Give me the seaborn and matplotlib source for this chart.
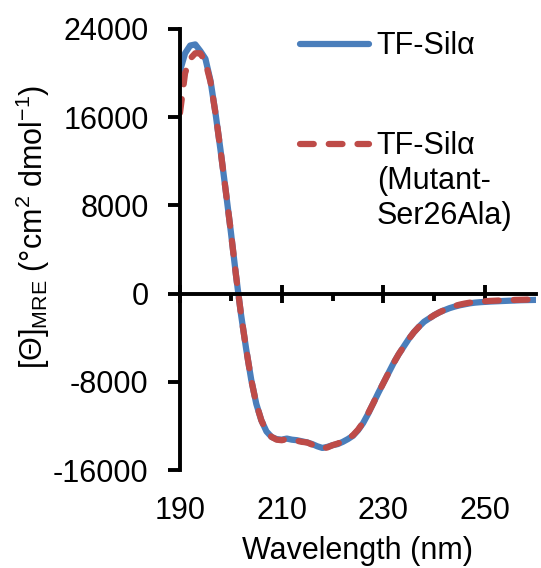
import numpy as np
import pandas as pd
import matplotlib
matplotlib.use("Agg")
import matplotlib.pyplot as plt
import seaborn as sns

# Wavelength grid (nm)
wavelength = list(range(190, 261))

# Mean residue ellipticity, wild type
theta_wt = [
    20200, 21800, 22500, 22600, 22000, 21300, 19300, 16300, 12900, 9300,
    5600, 1700, -1900, -5000, -7800, -10000, -11500, -12500, -13000, -13200,
    -13250, -13150, -13250, -13300, -13400, -13500, -13650, -13850, -14000, -13900,
    -13750, -13650, -13450, -13200, -12900, -12400, -11750, -10900, -9950, -9000,
    -8100, -7200, -6300, -5500, -4800, -4100, -3500, -3000, -2550, -2250,
    -1950, -1700, -1500, -1320, -1180, -1060, -970, -880, -820, -780,
    -750, -720, -700, -680, -660, -640, -620, -600, -590, -580,
    -570,
]

# Mean residue ellipticity, Ser26Ala mutant
theta_mut = [
    16400, 20000, 21300, 21800, 21800, 21000, 19200, 16300, 12900, 9300,
    5600, 1700, -1900, -5000, -7800, -10000, -11500, -12500, -13000, -13250,
    -13300, -13200, -13300, -13350, -13450, -13500, -13700, -13900, -14050, -13950,
    -13750, -13600, -13400, -13150, -12850, -12350, -11700, -10850, -9950, -9000,
    -8100, -7200, -6300, -5500, -4800, -4100, -3500, -3000, -2550, -2250,
    -1950, -1700, -1480, -1280, -1120, -1000, -900, -820, -760, -720,
    -690, -660, -640, -620, -600, -590, -570, -560, -550, -540,
    -530,
]

label_wt = "TF-Silα"
label_mut = "TF-Silα"
label_mut_extra = "(Mutant-\nSer26Ala)"

x_ticks = [190, 210, 230, 250]
x_minor = [200, 220, 240]
y_ticks = [-16000, -8000, 0, 8000, 16000, 24000]

sns.set_style("ticks")
plt.rcParams["font.family"] = ["Liberation Sans", "DejaVu Sans"]
plt.rcParams["mathtext.fontset"] = "custom"
plt.rcParams["mathtext.rm"] = "Liberation Sans"
plt.rcParams["mathtext.it"] = "Liberation Sans:italic"
for key in ["text.color", "axes.labelcolor", "xtick.color", "ytick.color",
            "axes.edgecolor"]:
    plt.rcParams[key] = "black"

df = pd.DataFrame({"wavelength": wavelength, "wt": theta_wt, "mut": theta_mut})

fig = plt.figure(figsize=(5.41, 5.68), dpi=100)
ax = fig.add_axes([180 / 541, 98 / 568, 356 / 541, 441 / 568])

blue = "#4A7EBB"
red = "#BE4B48"
sns.lineplot(data=df, x="wavelength", y="wt", ax=ax, color=blue, lw=4.5,
             estimator=None, sort=False, label=label_wt,
             solid_capstyle="round", solid_joinstyle="round")
sns.lineplot(data=df, x="wavelength", y="mut", ax=ax, color=red, lw=4.5,
             estimator=None, sort=False, label=label_mut,
             linestyle=(0, (2.2, 2.4)), dash_capstyle="round",
             dash_joinstyle="round")

ax.set_xlim(190, 260)
ax.set_ylim(-16000, 24000)

# Axis lines: the horizontal axis crosses at zero
for side in ["top", "right"]:
    ax.spines[side].set_visible(False)
ax.spines["bottom"].set_position(("data", 0))
for side in ["left", "bottom"]:
    ax.spines[side].set_linewidth(2.8)
    ax.spines[side].set_color("black")

ax.set_xticks(x_ticks)
ax.set_xticks(x_minor, minor=True)
ax.tick_params(axis="x", which="major", direction="inout", length=13,
               width=2.8, color="black", labelbottom=False)
ax.tick_params(axis="x", which="minor", direction="out", length=5,
               width=2.8, color="black")

ax.set_yticks(y_ticks)
ax.set_yticklabels([str(v) for v in y_ticks])
ax.tick_params(axis="y", which="major", direction="out", length=8.6,
               width=2.8, color="black", pad=14, labelsize=22,
               labelcolor="black")
ax.set_xlabel("")
ax.set_ylabel("")

# Wavelength labels sit below the plotting area
sec = ax.secondary_xaxis(0)
sec.set_xticks(x_ticks)
sec.set_xticklabels([str(v) for v in x_ticks])
sec.spines["bottom"].set_visible(False)
sec.tick_params(axis="x", length=0, pad=18.5, labelsize=22, labelcolor="black")
sec.set_xlabel("Wavelength (nm)", fontsize=22, labelpad=7.5, color="black")

ax.text((33 - 180) / 356, (470 - 227) / 441,
        r"[Θ]$_{\mathregular{MRE}}$ (°cm$^{\mathregular{2}}$ dmol$^{\mathregular{-1}}$)",
        transform=ax.transAxes, rotation=90, ha="center", va="center",
        fontsize=22, color="black")

leg = ax.legend(loc="upper left", bbox_to_anchor=(120 / 356, 0.995),
                frameon=False, fontsize=22, borderpad=0, borderaxespad=0,
                handlelength=2.25, handletextpad=0.25, labelspacing=2.3)
for t in leg.get_texts():
    t.set_color("black")
ax.text((377 - 180) / 356, (470 - 224) / 441, label_mut_extra,
        transform=ax.transAxes, ha="left", va="baseline", fontsize=22,
        linespacing=1.22, color="black")

fig.savefig("out.png", dpi=100)
